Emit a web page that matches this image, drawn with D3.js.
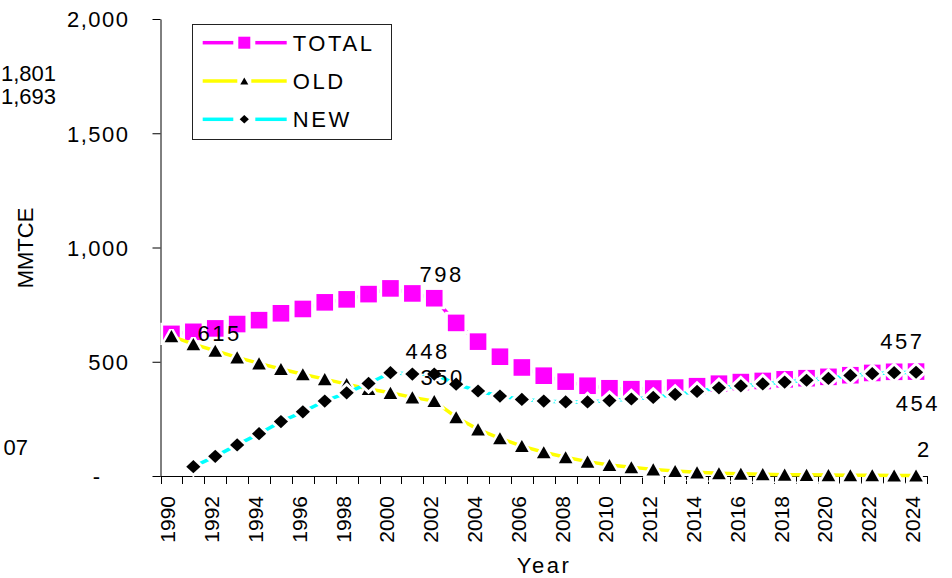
<!DOCTYPE html>
<html><head><meta charset="utf-8">
<script src="https://cdn.jsdelivr.net/npm/d3@7"></script>
<style>
body{margin:0;background:#fff}
svg{display:block}
text{font-family:"Liberation Sans",Arial,sans-serif;fill:#000}
</style>
</head><body>
<svg id="c" width="952" height="578"></svg>
<script>
// ---------------- DATA ----------------
const years = [1990,1991,1992,1993,1994,1995,1996,1997,1998,1999,
               2000,2001,2002,2003,2004,2005,2006,2007,2008,2009,
               2010,2011,2012,2013,2014,2015,2016,2017,2018,2019,
               2020,2021,2022,2023,2024];
const totalValues = [622,631,646,665,682,712,731,760,773,796,
                     821,799,778,670,588,522,475,439,413,395,
                     384,380,383,387,393,404,411,416,423,428,
                     434,441,451,456,457];
const oldValues = [612,577,548,519,493,468,445,424,402,381,
                   364,344,328,257,204,165,131,104,82,63,
                   48,38,29,22,16,12,10,8,6,5,
                   4,3,3,2,2];
const newValues = [null,41,86,136,185,238,281,328,364,405,
                   452,446,446,402,372,350,335,328,324,324,
                   330,337,344,357,370,386,394,403,411,419,
                   427,440,448,452,454];
const seriesNames = ["TOTAL","OLD","NEW"];
const seriesColors = ["#FF00FF","#FFFF00","#00FFFF"];
const yTicks = [0,500,1000,1500,2000];
const yTickLabels = ["-","500","1,000","1,500","2,000"];
const xTickLabels = ["1990","1992","1994","1996","1998","2000","2002","2004","2006",
                     "2008","2010","2012","2014","2016","2018","2020","2022","2024"];
const labelTexts  = ["615","798","448","350","457","454","2"];
const labelSeries = ["TOTAL","TOTAL","NEW","OLD","TOTAL","NEW","OLD"];
const labelYears  = [1991,2001,2000,2001,2024,2024,2024];
const sideLabels  = ["1,801","1,693","07"];
const yTitle = "MMTCE";
const xTitle = "Year";

// ---------------- LAYOUT ----------------
const svg = d3.select("#c");
const x = d3.scaleBand().domain(years).range([160.5, 927]).padding(0);
const y = d3.scaleLinear().domain([0, 2000]).range([476, 19]);
const cx = yr => x(yr) + x.bandwidth() / 2;
const seriesData = {TOTAL: totalValues, OLD: oldValues, NEW: newValues};

// Y axis
const yAxis = d3.axisLeft(y).tickValues(yTicks).tickSize(8).tickSizeOuter(0)
  .tickPadding(23).tickFormat((d, i) => yTickLabels[i]);
const gy = svg.append("g").attr("transform", "translate(160.5,0)").call(yAxis);
gy.attr("font-family", null).attr("font-size", null);
gy.selectAll("path,line").attr("stroke", "#000");
gy.selectAll("text").style("font-size", "22px").style("letter-spacing", "1.5px")
  .attr("dy", "0.36em")
  .attr("x", d => d === 0 ? -59 : -31);

// X axis line + ticks at band edges
const xEdges = years.map(yr => x(yr)).concat([x.range()[1]]);
const gx = svg.append("g");
gx.append("line").attr("x1", x.range()[0]).attr("x2", x.range()[1])
  .attr("y1", y(0) + 0.5).attr("y2", y(0) + 0.5).attr("stroke", "#000");
gx.selectAll("line.tk").data(xEdges).join("line").attr("class", "tk")
  .attr("x1", d => Math.round(d) + 0.5).attr("x2", d => Math.round(d) + 0.5)
  .attr("y1", y(0)).attr("y2", y(0) + 8).attr("stroke", "#000");
gx.selectAll("text").data(xTickLabels).join("text")
  .attr("transform", d => `translate(${cx(+d) + 4},496) rotate(-90)`)
  .attr("text-anchor", "end").style("font-size", "21px").text(d => d);

// Axis titles
svg.append("text").attr("transform", "translate(33,248) rotate(-90)")
  .attr("text-anchor", "middle").style("font-size", "22px").text(yTitle);
svg.append("text").attr("x", 544).attr("y", 573).attr("text-anchor", "middle")
  .style("font-size", "22px").style("letter-spacing", "2.5px").text(xTitle);

// Marker shapes
function markerPath(name, s) {
  if (name === "TOTAL") return `M${-s},${-s}H${s}V${s}H${-s}Z`;
  if (name === "OLD") return `M0,${-s * 0.89}L${s},${s * 0.89}L${-s},${s * 0.89}Z`;
  return `M0,${-s * 0.93}L${s},0L0,${s * 0.93}L${-s},0Z`;
}
const markerSize = {TOTAL: 8.3, OLD: 6.8, NEW: 7.1};
const markerFill = {TOTAL: "#FF00FF", OLD: "#000", NEW: "#000"};
const markerStroke = {TOTAL: 5.5, OLD: 5, NEW: 6};

// Series
seriesNames.forEach((name, si) => {
  const vals = seriesData[name];
  const line = d3.line().defined(d => d != null)
    .x((d, i) => cx(years[i])).y(d => y(d));
  const g = svg.append("g");
  g.append("path").datum(vals).attr("d", line).attr("fill", "none")
    .attr("stroke", seriesColors[si]).attr("stroke-width", 3.5);
  g.selectAll("path.m").data(vals.map((v, i) => ({v, yr: years[i]})).filter(d => d.v != null))
    .join("path").attr("class", "m")
    .attr("transform", d => `translate(${cx(d.yr)},${y(d.v)})`)
    .attr("d", markerPath(name, markerSize[name]))
    .attr("fill", markerFill[name]).attr("stroke", "#fff")
    .attr("stroke-width", markerStroke[name]).attr("stroke-linejoin", "miter")
    .attr("stroke-miterlimit", 2)
    .attr("paint-order", "stroke");
});

// Data labels (anchored to data points with offsets)
const labelOffsets = [[25, 9], [28, -11], [36, -14], [29, -12], [-15, -23], [0.5, 39], [7, -18.5]];
labelTexts.forEach((t, i) => {
  const vals = seriesData[labelSeries[i]];
  const idx = years.indexOf(labelYears[i]);
  svg.append("text")
    .attr("x", cx(labelYears[i]) + labelOffsets[i][0] + 1.25)
    .attr("y", y(vals[idx]) + labelOffsets[i][1])
    .attr("text-anchor", "middle").style("font-size", "22px").style("letter-spacing", "2.5px")
    .text(t);
});

// Off-plot labels at the left edge
const sidePos = [[56, 81], [56, 104], [28, 455]];
sideLabels.forEach((t, i) => {
  svg.append("text").attr("x", sidePos[i][0]).attr("y", sidePos[i][1])
    .attr("text-anchor", "end").style("font-size", "22px").text(t);
});

// Legend
const lg = svg.append("g");
lg.append("rect").attr("x", 192.5).attr("y", 24.5).attr("width", 199).attr("height", 115)
  .attr("fill", "#fff").attr("stroke", "#222");
const legendGap = {TOTAL: 11, OLD: 7, NEW: 11};
const legendMarker = {TOTAL: 6, OLD: 4, NEW: 4.6};
seriesNames.forEach((name, i) => {
  const ry = 42.7 + i * 38.3, mx = 244.3;
  lg.append("line").attr("x1", 202.7).attr("x2", mx - legendGap[name]).attr("y1", ry).attr("y2", ry)
    .attr("stroke", seriesColors[i]).attr("stroke-width", 3.5);
  lg.append("line").attr("x1", mx + legendGap[name]).attr("x2", 286.7).attr("y1", ry).attr("y2", ry)
    .attr("stroke", seriesColors[i]).attr("stroke-width", 3.5);
  lg.append("path").attr("transform", `translate(${mx},${ry})`)
    .attr("d", markerPath(name, legendMarker[name])).attr("fill", markerFill[name]);
  lg.append("text").attr("x", 292.7).attr("y", ry + 8).style("font-size", "22px")
    .style("letter-spacing", "2.6px").text(name);
});
</script>
</body></html>
